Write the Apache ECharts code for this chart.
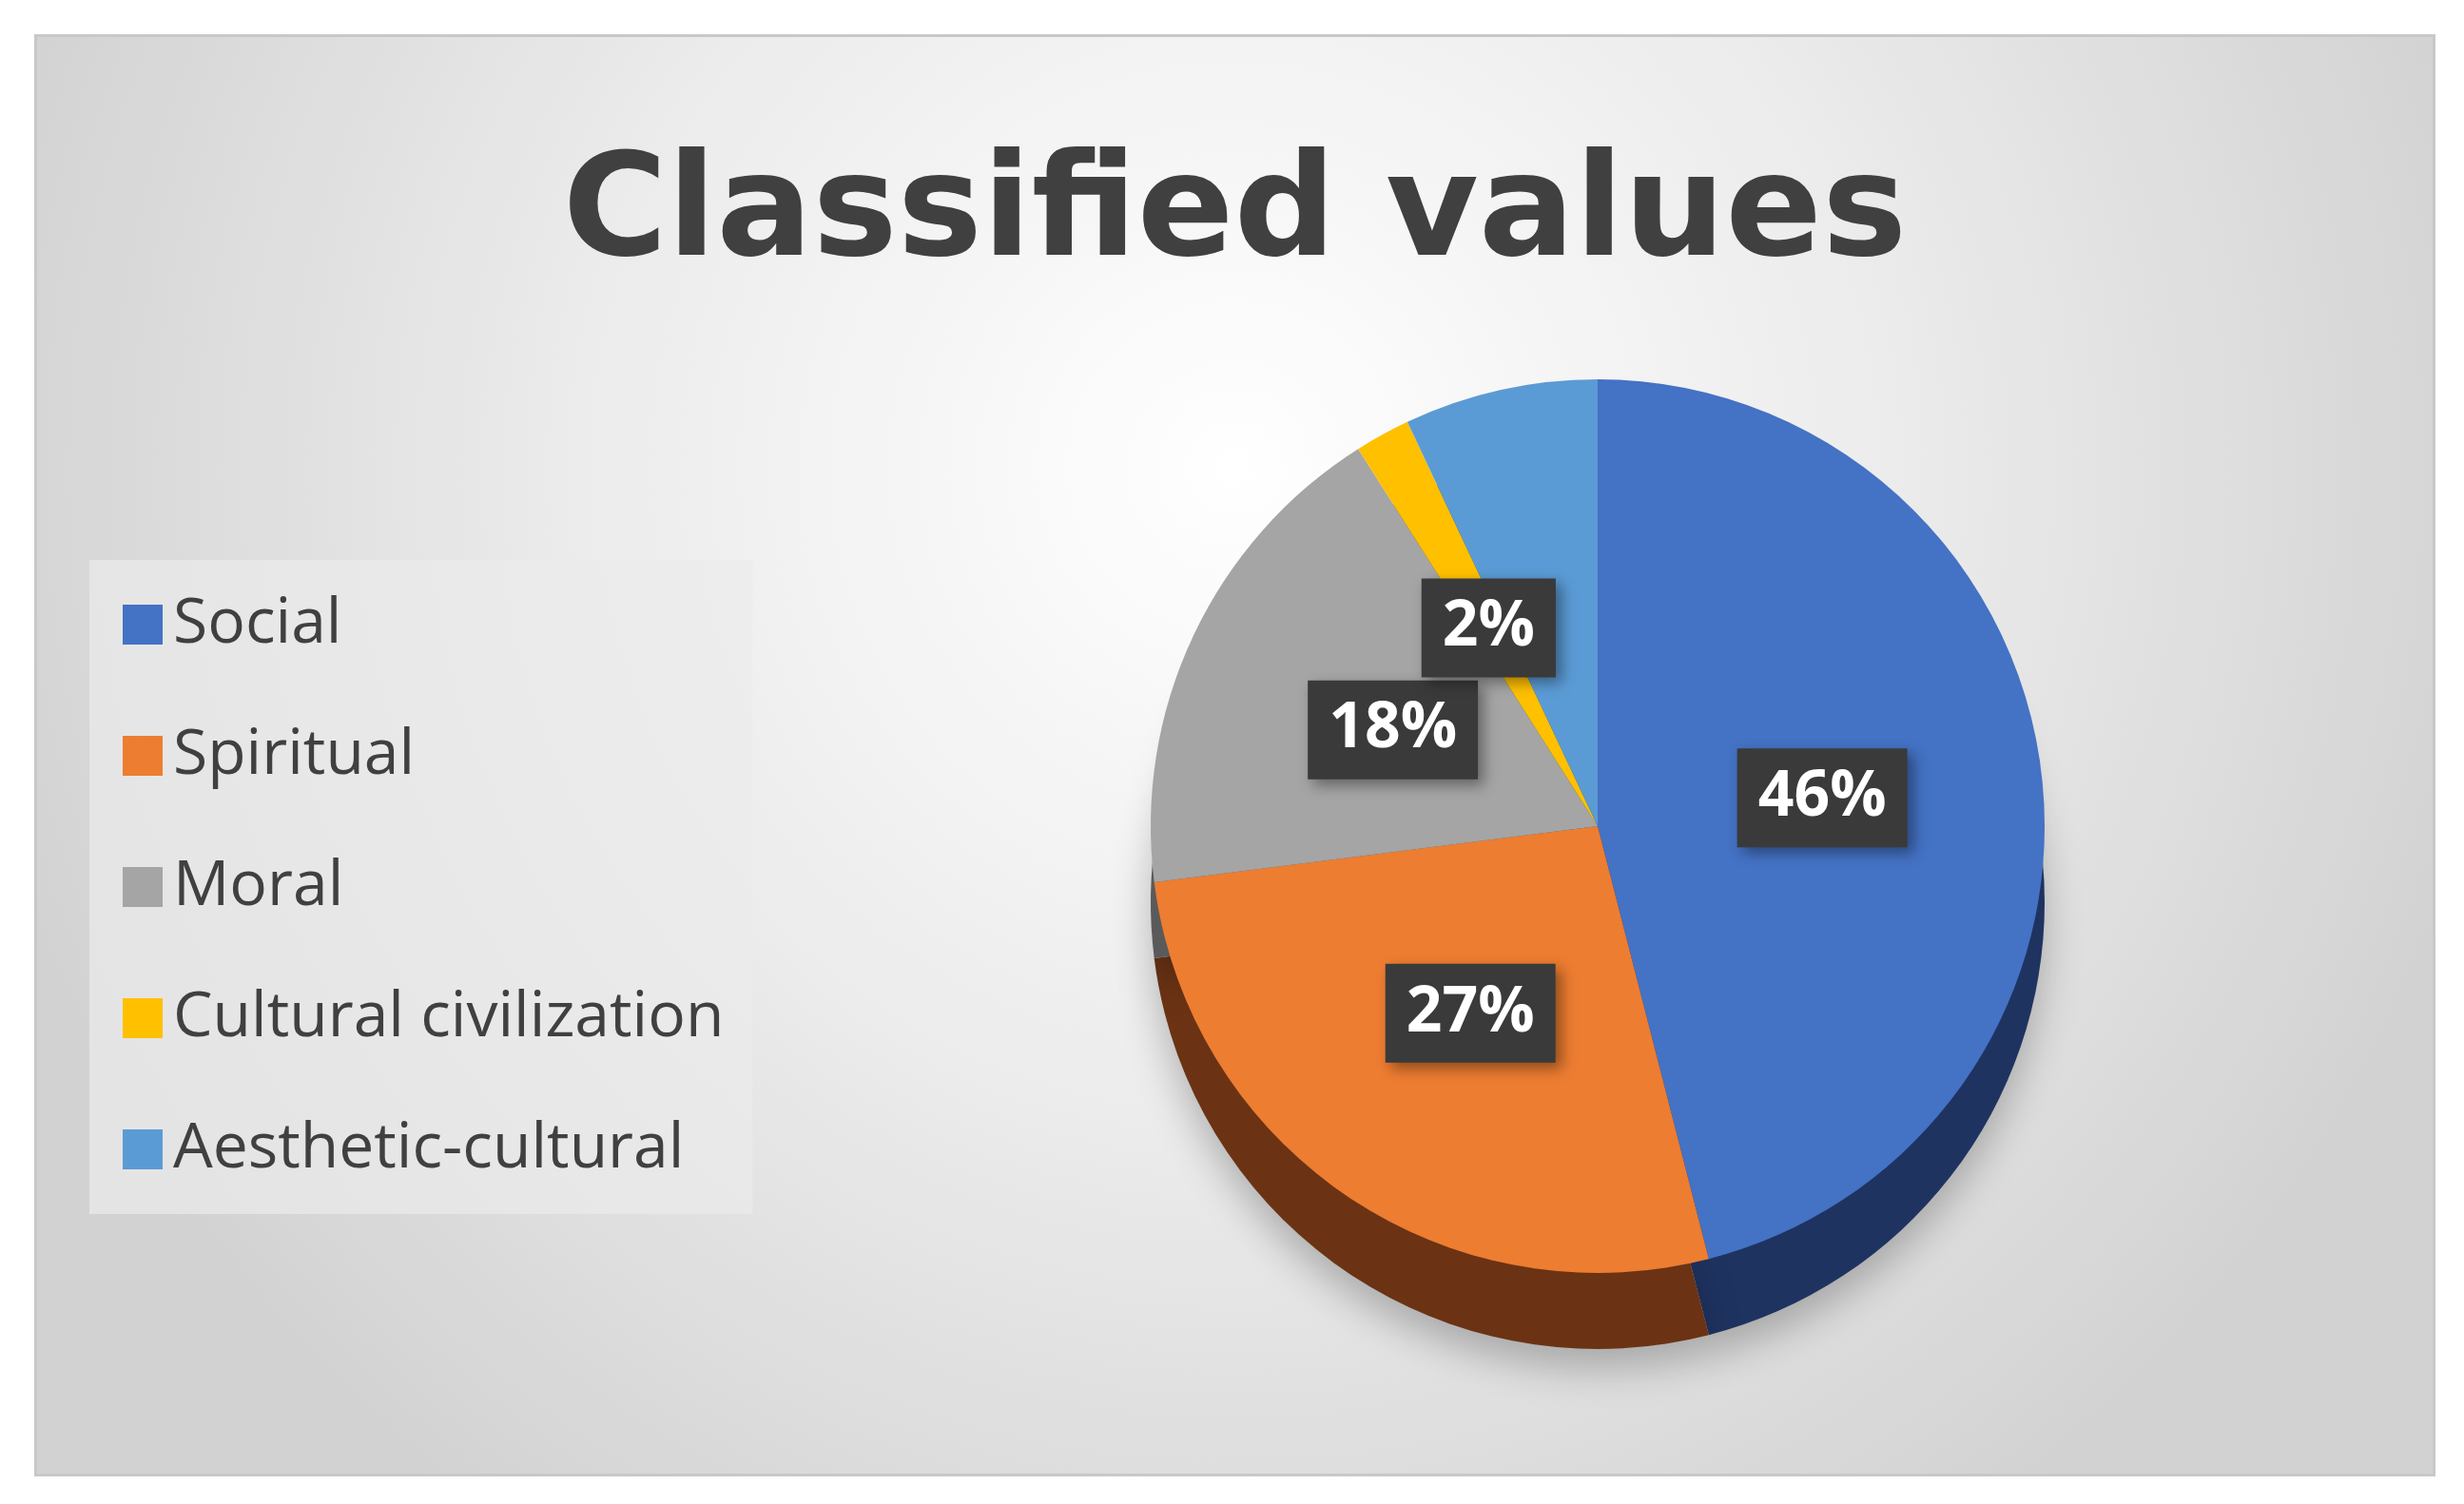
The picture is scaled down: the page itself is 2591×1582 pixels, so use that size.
<!DOCTYPE html>
<html>
<head>
<meta charset="utf-8">
<script src="https://cdn.jsdelivr.net/npm/echarts@6/dist/echarts.min.js"></script>
<style>
html,body{margin:0;padding:0;background:#fff;width:2591px;height:1582px;overflow:hidden;}
#chart{position:absolute;left:36px;top:36px;width:2525px;height:1517px;border:3px solid #c8c8c8;box-sizing:border-box;}
</style>
</head>
<body>
<div id="chart"></div>
<script>
// chart data
const categories=["Social","Spiritual","Moral","Cultural civilization","Aesthetic-cultural"];
const shares=[46,27,18,2,7];
const colours=["#4472c4","#ed7d31","#a5a5a5","#ffc000","#5b9bd5"];
const sideColours=["#1f3361","#6b3314","#5a5a5a","#7f6000","#2e4e6e"];

const chart=echarts.init(document.getElementById("chart"));

const pieData=(cols)=>categories.map((name,i)=>({
    name:name,
    value:shares[i],
    itemStyle:{color:cols[i]}
}));

chart.setOption({
    backgroundColor:{
        type:"radial",x:0.5,y:0.3,r:0.9,
        colorStops:[{offset:0,color:"#ffffff"},{offset:0.5,color:"#ececec"},{offset:1,color:"#d2d2d2"}]
    },
    title:{
        text:"Classified values",
        left:"center",
        top:110,
        textStyle:{fontFamily:"DejaVu Sans",fontWeight:"bold",fontSize:150,color:"#404040"}
    },
    legend:{
        orient:"vertical",
        left:55,
        top:550,
        data:categories,
        itemWidth:42,
        itemHeight:42,
        itemGap:72,
        icon:"rect",
        padding:[35,30,35,35],
        backgroundColor:"rgba(235,235,235,0.7)",
        textStyle:{fontFamily:"Open Sans",fontSize:66,color:"#404040",padding:[0,0,0,6]}
    },
    series:[
        {
            type:"pie",
            center:[1641,830],
            radius:[0,470],
            startAngle:90,
            z:2,
            labelLine:{show:false},
            label:{
                show:true,
                position:"inside",
                formatter:"{d}%",
                fontFamily:"Open Sans",
                fontWeight:"bold",
                fontSize:66,
                color:"#ffffff",
                backgroundColor:"#3a3a3a",
                padding:[22,22,16,22],
                shadowBlur:14,
                shadowColor:"rgba(0,0,0,0.4)",
                shadowOffsetX:6,
                shadowOffsetY:6
            },
            data:pieData(colours)
        },
        {
            type:"pie",
            silent:true,
            center:[1641,910],
            radius:[0,470],
            startAngle:90,
            z:1,
            label:{show:false},
            labelLine:{show:false},
            itemStyle:{shadowBlur:40,shadowColor:"rgba(0,0,0,0.25)",shadowOffsetY:20},
            data:pieData(sideColours)
        }
    ]
});
</script>
</body>
</html>
